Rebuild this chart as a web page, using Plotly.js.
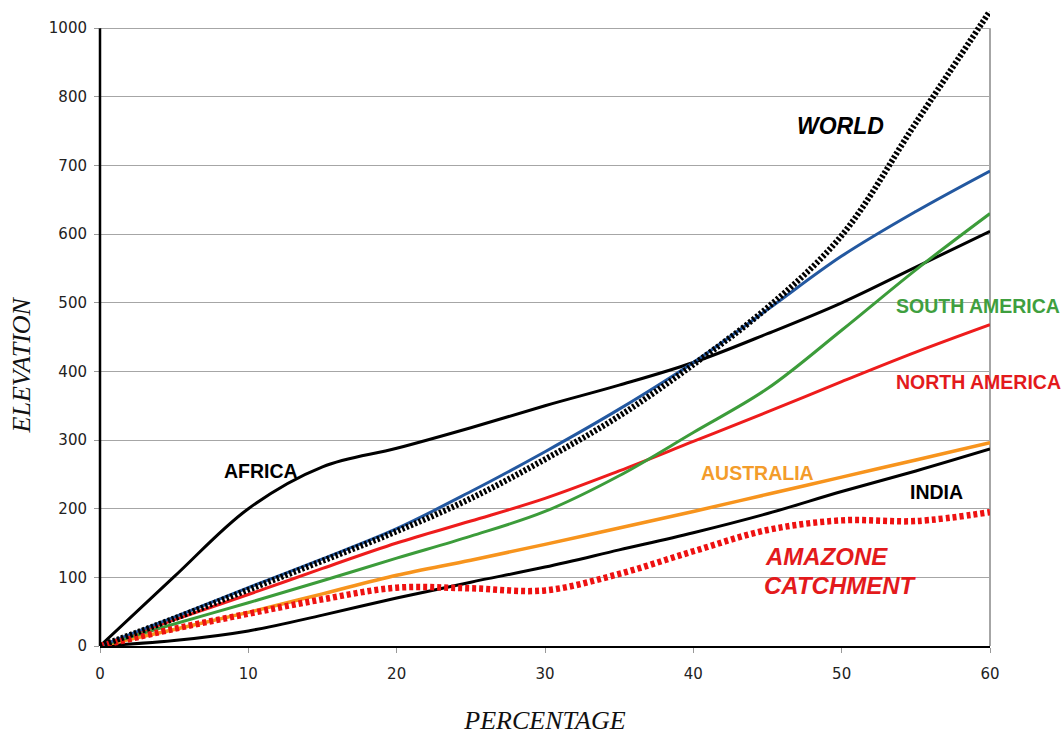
<!DOCTYPE html>
<html>
<head>
<meta charset="utf-8">
<script src="https://cdn.plot.ly/plotly-3.0.1.min.js"></script>
<style>html,body{margin:0;padding:0;background:#fff;}#chart{width:1064px;height:735px;}</style>
</head>
<body>
<div id="chart"></div>
<script>
// Percentage (x) values shared by all series
const percentage = [0, 5, 10, 15, 20, 25, 30, 35, 40, 45, 50, 55, 60];

// Elevation values
const world        = [0, 40, 82, 124, 167, 215, 272, 335, 410, 493, 598, 762, 925];
const arabia       = [0, 42, 85, 127, 171, 225, 283, 345, 413, 490, 568, 633, 692];
const southAmerica = [0, 32, 63, 95, 128, 160, 196, 248, 311, 375, 460, 548, 630];
const africa       = [0, 101, 200, 261, 288, 318, 350, 380, 413, 455, 500, 552, 604];
const northAmerica = [0, 38, 75, 113, 150, 182, 215, 255, 298, 341, 385, 428, 468];
const australia    = [0, 24, 49, 76, 103, 125, 148, 172, 196, 221, 246, 271, 296];
const india        = [0, 8, 22, 45, 70, 93, 115, 140, 165, 193, 225, 255, 287];
const amazone      = [0, 25, 47, 68, 85, 84, 81, 105, 138, 169, 183, 182, 195];

// Axis ticks (the top gridline is labelled 1000 in the original)
const yTickVals = [0, 100, 200, 300, 400, 500, 600, 700, 800, 900];
const yTickText = ['0', '100', '200', '300', '400', '500', '600', '700', '800', '1000'];
const xTickVals = [0, 10, 20, 30, 40, 50, 60];

const series = [
  {name: 'AFRICA', y: africa, color: '#000000', width: 3, dash: 'solid'},
  {name: 'INDIA', y: india, color: '#000000', width: 3, dash: 'solid'},
  {name: 'AUSTRALIA', y: australia, color: '#f7941d', width: 3.5, dash: 'solid'},
  {name: 'NORTH AMERICA', y: northAmerica, color: '#ee1c1c', width: 3, dash: 'solid'},
  {name: 'SOUTH AMERICA', y: southAmerica, color: '#3c9c3a', width: 3, dash: 'solid'},
  {name: 'ARABIA', y: arabia, color: '#2358a0', width: 3, dash: 'solid'},
  {name: 'AMAZONE CATCHMENT', y: amazone, color: '#ee1111', width: 6.5, dash: '4px,3px'},
  {name: 'WORLD', y: world, color: '#000000', width: 6, dash: '2.5px,2px'}
];

const traces = series.map(s => ({
  type: 'scatter', mode: 'lines', name: s.name,
  x: percentage, y: s.y,
  line: {color: s.color, width: s.width, dash: s.dash, shape: 'spline', smoothing: 1.0},
  cliponaxis: false,
  hoverinfo: 'skip'
}));

const labelFont = (c, size, italic) => ({family: 'Liberation Sans, Arial, sans-serif', size: size, color: c, weight: 'bold', style: italic ? 'italic' : 'normal'});

const annotations = [
  {text: 'WORLD', x: 49.9, y: 757, font: labelFont('#000', 23, true)},
  {text: 'ARABIA', x: 62.0, y: 723, font: labelFont('#2e5c9e', 18.5, false)},
  {text: 'SOUTH AMERICA', x: 59.2, y: 495, font: labelFont('#3f9f3f', 19.5, false)},
  {text: 'NORTH AMERICA', x: 59.2, y: 385, font: labelFont('#e31a1c', 19.5, false)},
  {text: 'AFRICA', x: 10.85, y: 255, font: labelFont('#000', 19.5, false)},
  {text: 'AUSTRALIA', x: 44.3, y: 252, font: labelFont('#f39c2b', 19.5, false)},
  {text: 'INDIA', x: 56.4, y: 225, font: labelFont('#000', 19.5, false)},
  {text: 'AMAZONE', x: 49.0, y: 130, font: labelFont('#e31a1c', 24, true)},
  {text: 'CATCHMENT', x: 49.9, y: 88, font: labelFont('#e31a1c', 24, true)}
].map(a => Object.assign({xref: 'x', yref: 'y', showarrow: false, xanchor: 'center', yanchor: 'middle'}, a));

// y-axis title, placed as in the reference (below the plot's vertical centre)
annotations.push({
  text: 'ELEVATION', xref: 'paper', yref: 'paper', x: -0.088, y: 0.443,
  xanchor: 'center', yanchor: 'middle', textangle: -90, showarrow: false,
  font: {family: 'Liberation Serif, Times New Roman, serif', size: 26, style: 'italic', color: '#111'}
});

const yTop = yTickVals[yTickVals.length - 1];

const layout = {
  width: 1064, height: 735,
  margin: {l: 100, r: 74, t: 11, b: 89, pad: 0},
  paper_bgcolor: '#ffffff', plot_bgcolor: '#ffffff',
  showlegend: false,
  font: {family: 'DejaVu Sans, Verdana, sans-serif', size: 15, color: '#222'},
  xaxis: {
    range: [0, 60], tickvals: xTickVals, showgrid: false, zeroline: false,
    showline: true, linecolor: '#000', linewidth: 2,
    ticks: 'outside', ticklen: 5, tickcolor: '#999', tickwidth: 1,
    ticklabelstandoff: 8,
    tickfont: {family: 'DejaVu Sans, Verdana, sans-serif', size: 15, color: '#222'},
    title: {text: 'PERCENTAGE', standoff: 40, font: {family: 'Liberation Serif, Times New Roman, serif', size: 26, style: 'italic', color: '#111'}}
  },
  yaxis: {
    range: [0, 925], tickvals: yTickVals, ticktext: yTickText,
    showgrid: true, gridcolor: '#a6a6a6', gridwidth: 1, zeroline: false,
    showline: false,
    ticks: 'outside', ticklen: 5, tickcolor: '#999', tickwidth: 1,
    ticklabelstandoff: 4,
    tickfont: {family: 'DejaVu Sans, Verdana, sans-serif', size: 15, color: '#222'}
  },
  shapes: [
    {type: 'line', xref: 'paper', yref: 'y', x0: 0, x1: 0, y0: 0, y1: yTop, line: {color: '#000', width: 2.5}, layer: 'above'},
    {type: 'line', xref: 'paper', yref: 'y', x0: 1, x1: 1, y0: 0, y1: yTop, line: {color: '#a6a6a6', width: 2}, layer: 'below'}
  ],
  annotations: annotations
};

Plotly.newPlot('chart', traces, layout, {displayModeBar: false, staticPlot: true});
</script>
</body>
</html>
